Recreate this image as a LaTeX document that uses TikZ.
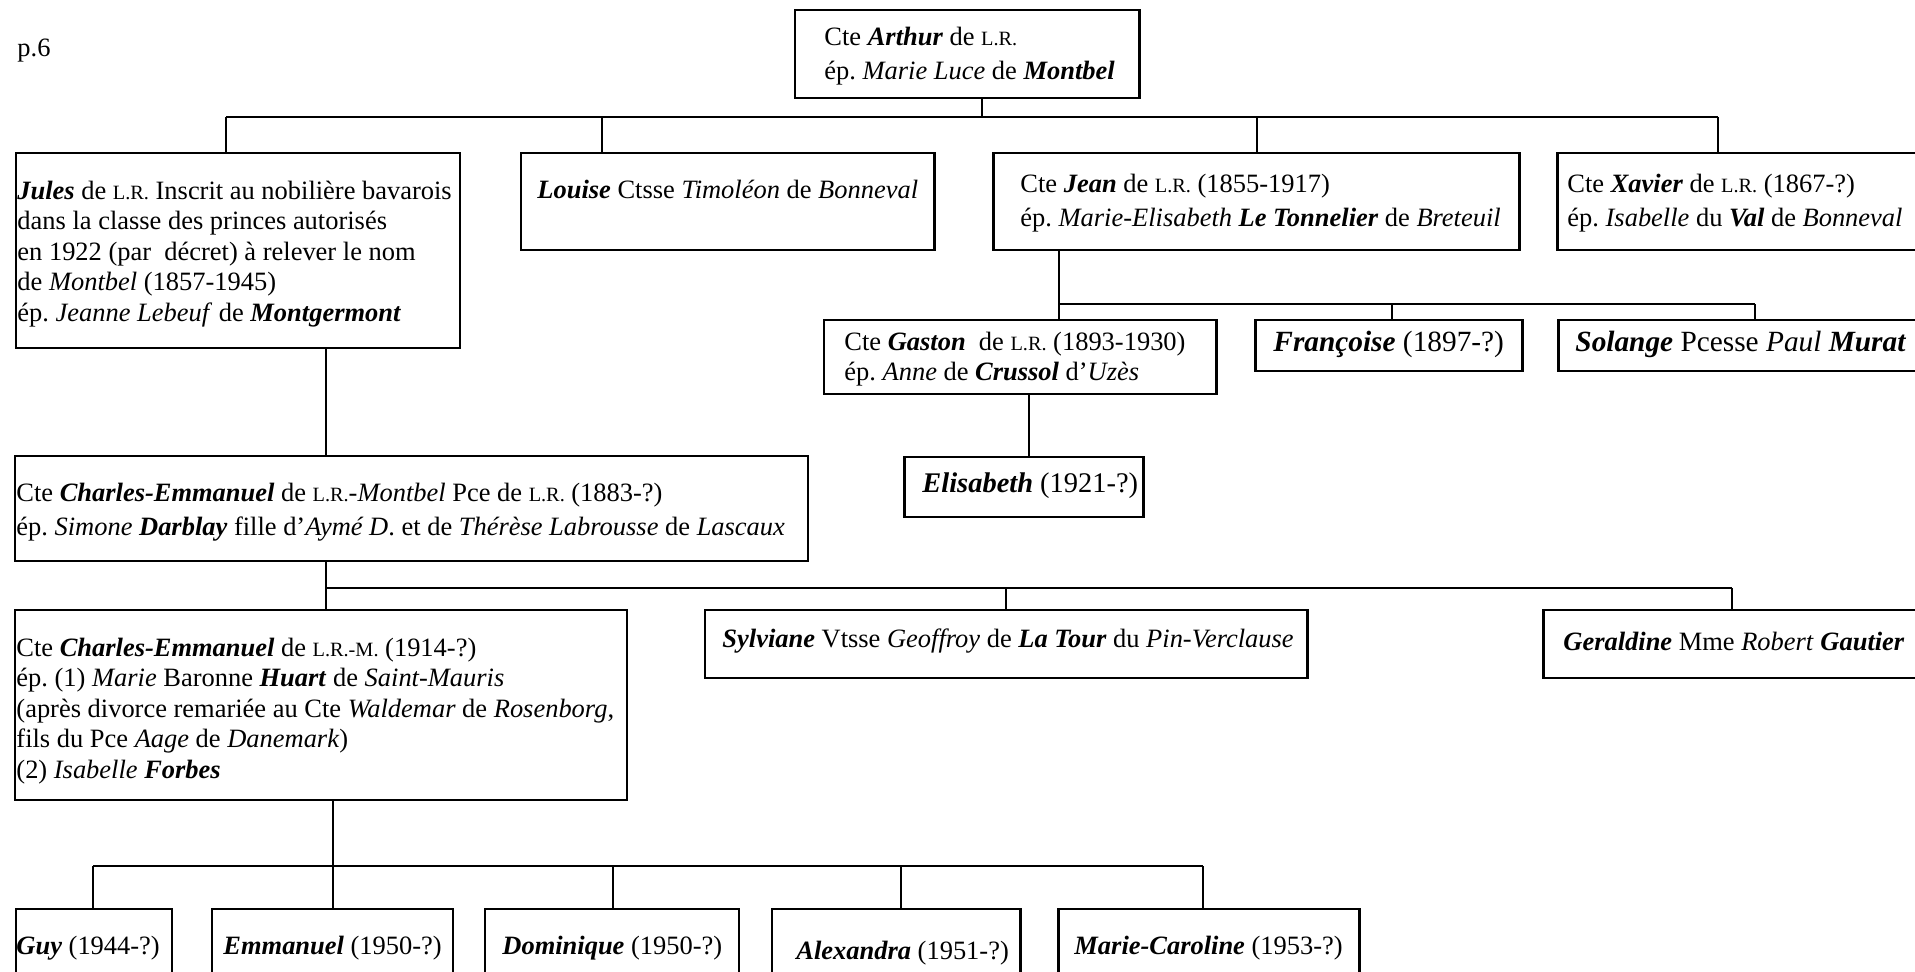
\documentclass[tikz,border=0pt]{standalone}
\usepackage{fontspec}
\setmainfont{Liberation Serif}
\usetikzlibrary{fit}
\newcommand{\lr}{{\fontsize{9.2}{10}\selectfont L.R.}}
\newcommand{\lrm}{{\fontsize{9.2}{10}\selectfont L.R.-M.}}
\newcommand{\bi}[1]{\textbf{\textit{#1}}}
\begin{document}
\frenchspacing
\begin{tikzpicture}[x=0.4535pt,y=-0.4535pt,
  box/.style={draw, line width=1.35pt, inner sep=0pt},
  txt/.style={anchor=west, inner sep=0pt, align=left, font=\fontsize{12}{13.8}\selectfont},
  wide/.style={font=\fontsize{12}{15.5}\selectfont},
  big/.style={font=\fontsize{13.3}{15}\selectfont},
  mid/.style={font=\fontsize{12.9}{15}\selectfont},
  conn/.style={line width=0.9pt},
  bar/.style={line width=1.3pt}]
\useasboundingbox (0,0) rectangle (1915,972);

\node[txt] (p6) at (17,51) {p.6};

% generation 1
\node[box, fit={(795,10) (1139,98)}] (arthur) {};
\node[txt, wide] (arthur-t) at (824,56) {Cte \bi{Arthur} de \lr\\ ép. \textit{Marie Luce} de \bi{Montbel}};

% generation 2
\node[box, fit={(16,153) (460,348)}] (jules) {};
\node[txt] (jules-t) at (17,254) {\bi{Jules} de \lr{} Inscrit au nobilière bavarois\\ dans la classe des princes autorisés\\ en 1922 (par~ décret) à relever le nom\\ de \textit{Montbel} (1857-1945)\\ ép. \textit{Jeanne Lebeuf} de \bi{Montgermont}};
\node[box, fit={(521,153) (934,250)}] (louise) {};
\node[txt] (louise-t) at (537,189) {\bi{Louise} Ctsse \textit{Timoléon} de \textit{Bonneval}};
\node[box, fit={(993,153) (1519,250)}] (jean) {};
\node[txt, wide] (jean-t) at (1020,203) {Cte \bi{Jean} de \lr{} (1855-1917)\\ ép. \textit{Marie-Elisabeth} \bi{Le Tonnelier} de \textit{Breteuil}};
\node[box, fit={(1557,153) (1960,250)}] (xavier) {};
\node[txt, wide] (xavier-t) at (1567,203) {Cte \bi{Xavier} de \lr{} (1867-?)\\ ép. \textit{Isabelle} du \bi{Val} de \textit{Bonneval}};

\coordinate (ar-b) at (982,117);
\coordinate (ju-d) at (226,117);
\coordinate (lo-d) at (602,117);
\coordinate (je-d) at (1257,117);
\coordinate (xa-d) at (1718,117);
\draw[conn] (arthur.south -| ar-b) -- (ar-b);
\draw[bar] (ju-d) -- (xa-d);
\draw[conn] (ju-d) -- (ju-d |- jules.north);
\draw[conn] (lo-d) -- (lo-d |- louise.north);
\draw[conn] (je-d) -- (je-d |- jean.north);
\draw[conn] (xa-d) -- (xa-d |- xavier.north);

% children of Jean
\node[box, fit={(824,320) (1216,394)}] (gaston) {};
\node[txt] (gaston-t) at (844,359) {Cte \bi{Gaston}\ \ de \lr{} (1893-1930)\\ ép. \textit{Anne} de \bi{Crussol} d’\textit{Uzès}};
\node[box, fit={(1255,320) (1522,371)}] (francoise) {};
\node[txt, big] (francoise-t) at (1273,344) {\bi{Françoise} (1897-?)};
\node[box, fit={(1558,320) (1960,371)}] (solange) {};
\node[txt, big] (solange-t) at (1575,344) {\bi{Solange} Pcesse \textit{Paul} \bi{Murat}};
\coordinate (ga-d) at (1059,304);
\coordinate (fr-d) at (1392,304);
\coordinate (so-d) at (1755,304);
\draw[conn] (jean.south -| ga-d) -- (ga-d);
\draw[bar] (ga-d) -- (so-d);
\draw[conn] (ga-d) -- (ga-d |- gaston.north);
\draw[conn] (fr-d) -- (fr-d |- francoise.north);
\draw[conn] (so-d) -- (so-d |- solange.north);

\node[box, fit={(904,457) (1143,517)}] (elisabeth) {};
\node[txt, mid] (elisabeth-t) at (922,486) {\bi{Elisabeth} (1921-?)};
\coordinate (el-x) at (1029,0);
\draw[conn] (gaston.south -| el-x) -- (elisabeth.north -| el-x);

% generation 3
\node[box, fit={(15,456) (808,561)}] (ce1) {};
\node[txt, wide] (ce1-t) at (16,512) {Cte \bi{Charles-Emmanuel} de \lr-\textit{Montbel} Pce de \lr{} (1883-?)\\ ép. \textit{Simone} \bi{Darblay} fille d’\textit{Aymé D}. et de \textit{Thérèse Labrousse} de \textit{Lascaux}};
\coordinate (ce1-x) at (326,0);
\draw[conn] (jules.south -| ce1-x) -- (ce1.north -| ce1-x);

% generation 4
\node[box, fit={(15,610) (627,800)}] (ce2) {};
\node[txt] (ce2-t) at (16,711) {Cte \bi{Charles-Emmanuel} de \lrm{} (1914-?)\\ ép. (1) \textit{Marie} Baronne \bi{Huart} de \textit{Saint-Mauris}\\ (après divorce remariée au Cte \textit{Waldemar} de \textit{Rosenborg},\\ fils du Pce \textit{Aage} de \textit{Danemark})\\ (2) \textit{Isabelle} \bi{Forbes}};
\node[box, fit={(705,610) (1307,678)}] (sylviane) {};
\node[txt] (sylviane-t) at (722,641) {\bi{Sylviane} Vtsse \textit{Geoffroy} de \bi{La Tour} du \textit{Pin-Verclause}};
\node[box, fit={(1543,610) (1960,678)}] (geraldine) {};
\node[txt] (geraldine-t) at (1563,641) {\bi{Geraldine} Mme \textit{Robert} \bi{Gautier}};
\coordinate (c2-d) at (326,588);
\coordinate (sy-d) at (1006,588);
\coordinate (ge-d) at (1732,588);
\draw[conn] (ce1.south -| c2-d) -- (c2-d);
\draw[bar] (c2-d) -- (ge-d);
\draw[conn] (c2-d) -- (c2-d |- ce2.north);
\draw[conn] (sy-d) -- (sy-d |- sylviane.north);
\draw[conn] (ge-d) -- (ge-d |- geraldine.north);

% generation 5
\node[box, fit={(16,909) (172,1000)}] (guy) {};
\node[txt] (guy-t) at (16,948) {\bi{Guy} (1944-?)};
\node[box, fit={(212,909) (453,1000)}] (emmanuel) {};
\node[txt] (emmanuel-t) at (223,948) {\bi{Emmanuel} (1950-?)};
\node[box, fit={(485,909) (739,1000)}] (dominique) {};
\node[txt] (dominique-t) at (502,948) {\bi{Dominique} (1950-?)};
\node[box, fit={(772,909) (1020,1000)}] (alexandra) {};
\node[txt] (alexandra-t) at (796,953) {\bi{Alexandra} (1951-?)};
\node[box, fit={(1058,909) (1359,1000)}] (mariecaroline) {};
\node[txt] (mariecaroline-t) at (1074,948) {\bi{Marie-Caroline} (1953-?)};
\coordinate (gu-d) at (93,866);
\coordinate (em-d) at (333,866);
\coordinate (do-d) at (613,866);
\coordinate (al-d) at (901,866);
\coordinate (mc-d) at (1203,866);
\draw[conn] (ce2.south -| em-d) -- (em-d);
\draw[bar] (gu-d) -- (mc-d);
\draw[conn] (gu-d) -- (gu-d |- guy.north);
\draw[conn] (em-d) -- (em-d |- emmanuel.north);
\draw[conn] (do-d) -- (do-d |- dominique.north);
\draw[conn] (al-d) -- (al-d |- alexandra.north);
\draw[conn] (mc-d) -- (mc-d |- mariecaroline.north);
\end{tikzpicture}
\end{document}
